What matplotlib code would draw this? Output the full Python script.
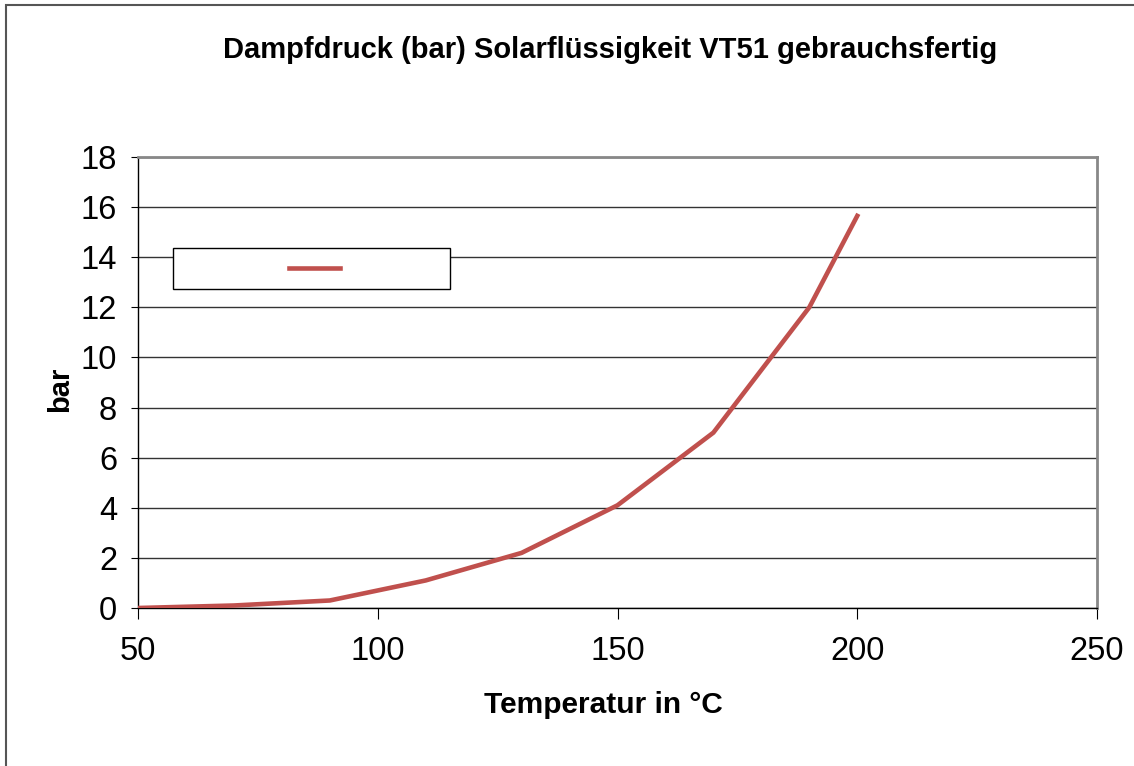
import matplotlib
matplotlib.use("Agg")
import matplotlib.pyplot as plt
from matplotlib.patches import Rectangle
from matplotlib.legend_handler import HandlerLine2D

# Werte
temperatur = [50, 70, 90, 110, 130, 150, 170, 190, 200]
dampfdruck = [0.0, 0.1, 0.3, 1.1, 2.2, 4.1, 7.0, 12.0, 15.65]
x_ticks = [50, 100, 150, 200, 250]
y_ticks = [0, 2, 4, 6, 8, 10, 12, 14, 16, 18]

plt.rcParams["font.family"] = ["Liberation Sans", "DejaVu Sans"]

fig = plt.figure(figsize=(11.34, 7.66), dpi=100)
ax = fig.add_axes([138 / 1134, 1 - 608 / 766, (1097 - 138) / 1134, (608 - 157) / 766])

# Kurve
linie, = ax.plot(temperatur, dampfdruck, color="#C0504D", lw=3.3,
                 solid_joinstyle="miter", zorder=3)

# Achsen
ax.set_xlim(50, 250)
ax.set_ylim(0, 18)
ax.set_xticks(x_ticks)
ax.set_yticks(y_ticks)
ax.tick_params(axis="both", labelsize=23.5, direction="out", color="black")
ax.tick_params(axis="x", length=8, pad=12)
ax.tick_params(axis="y", length=5, pad=10)
ax.yaxis.grid(True, color="#333333", lw=1.0)
ax.set_axisbelow(True)
for s in ["left", "bottom"]:
    ax.spines[s].set_color("black")
    ax.spines[s].set_linewidth(1.0)
for s in ["top", "right"]:
    ax.spines[s].set_color("#888888")
    ax.spines[s].set_linewidth(2.0)

# Beschriftung
ax.set_xlabel("Temperatur in °C", fontsize=21.5, fontweight="bold", va="center")
ax.xaxis.set_label_coords((603 - 138) / 959, (608 - 705) / 451)
ax.set_ylabel("bar", fontsize=21, fontweight="bold", va="center")
ax.yaxis.set_label_coords((60 - 138) / 959, (608 - 389) / 451)
fig.text(610 / 1134, 1 - 50 / 766, "Dampfdruck (bar) Solarflüssigkeit VT51 gebrauchsfertig",
         ha="center", va="center", fontsize=21, fontweight="bold")

# Legende ohne Text
leg = ax.legend([linie], [""], loc="upper left",
                bbox_to_anchor=((173 - 138) / 959, (608 - 248) / 451),
                borderaxespad=0, fontsize=10, borderpad=0.97,
                handlelength=11.04, handletextpad=6.95,
                handler_map={linie: HandlerLine2D(xpad=7.37)},
                fancybox=False, framealpha=1, edgecolor="black")
leg.get_frame().set_linewidth(1.0)

# Rahmen um das Diagramm
fig.patches.append(Rectangle((6 / 1134, -0.1), 1.2, 1 - 5 / 766 + 0.1,
                             transform=fig.transFigure, fill=False,
                             edgecolor="#555555", lw=1.5))

fig.savefig("out.png", dpi=100)
